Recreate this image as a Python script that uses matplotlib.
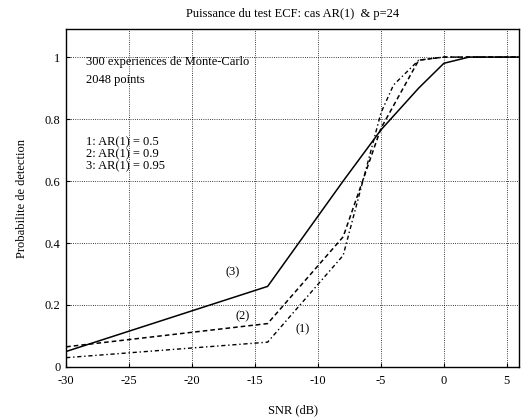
import numpy as np
import matplotlib
matplotlib.use('Agg')
import matplotlib.pyplot as plt

plt.rcParams['font.family'] = 'Liberation Serif'
plt.rcParams['font.size'] = 9
plt.rcParams['axes.unicode_minus'] = False

# data
snr_1 = [-30, -14, -8, -5, -4, -2, 0, 6]
pd_1 = [0.03, 0.08, 0.36, 0.82, 0.91, 0.99, 1.0, 1.0]

snr_2 = [-30, -14, -8, -5, -2, 0, 6]
pd_2 = [0.065, 0.14, 0.42, 0.77, 0.99, 1.0, 1.0]

snr_3 = [-30, -14, -8, -5, -2, 0, 2, 6]
pd_3 = [0.05, 0.26, 0.60, 0.765, 0.90, 0.98, 1.0, 1.0]

xticks = [-30, -25, -20, -15, -10, -5, 0, 5]
yticks = [0, 0.2, 0.4, 0.6, 0.8, 1]

fig = plt.figure(figsize=(5.21, 4.17), dpi=100)
ax = fig.add_axes([0.127, 0.12, 0.87, 0.81])

ax.plot(snr_3, pd_3, 'k-', lw=1.1)
ax.plot(snr_2, pd_2, 'k--', lw=1.1, dashes=(3, 2))
ax.plot(snr_1, pd_1, 'k-.', lw=1.0, dashes=(3, 2, 1, 2))

ax.set_xlim(-30, 6)
ax.set_ylim(0, 1.09)
ax.set_xticks(xticks)
ax.set_yticks(yticks)
ax.set_yticklabels(['0', '0.2', '0.4', '0.6', '0.8', '1'])
ax.tick_params(direction='in', length=3, width=0.8, colors='k')
ax.tick_params(axis='x', pad=6)
ax.tick_params(axis='y', pad=4)
ax.grid(True, color='k', linestyle=':', linewidth=0.6)
for s in ax.spines.values():
    s.set_linewidth(1.0)

ax.text(-28.4, 0.985, '300 experiences de Monte-Carlo', va='center')
ax.text(-28.4, 0.925, '2048 points', va='center')
ax.text(-28.4, 0.725, '1: AR(1) = 0.5', va='center')
ax.text(-28.4, 0.687, '2: AR(1) = 0.9', va='center')
ax.text(-28.4, 0.648, '3: AR(1) = 0.95', va='center')

ax.text(-16.8, 0.306, '(3)', ha='center', va='center')
ax.text(-16.0, 0.165, '(2)', ha='center', va='center')
ax.text(-11.2, 0.12, '(1)', ha='center', va='center')

ax.set_title('Puissance du test ECF: cas AR(1)  & p=24', fontsize=9, pad=9)
ax.set_xlabel('SNR (dB)', labelpad=12)
ax.set_ylabel('Probabilite de detection', labelpad=12)

fig.savefig('out.png', dpi=100)
